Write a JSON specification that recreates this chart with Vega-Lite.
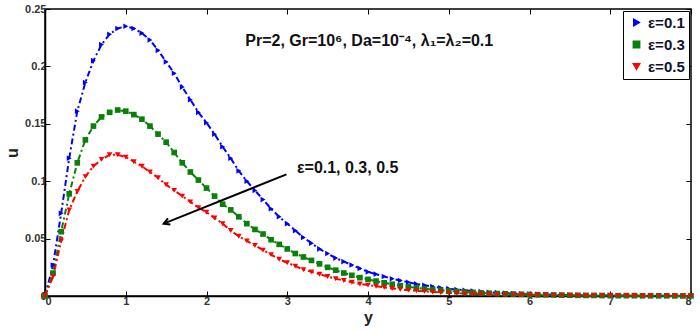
{
"$schema": "https://vega.github.io/schema/vega-lite/v6.json",
"width": 646,
"height": 287,
"autosize": {"type": "none"},
"padding": {"left": 45, "top": 9, "right": 9, "bottom": 37},
"background": "white",
"config": {
  "view": {"stroke": "black", "strokeWidth": 1.5},
  "font": "Liberation Sans",
  "axis": {
    "labelFont": "Liberation Sans", "labelFontWeight": "bold", "labelFontSize": 11, "labelColor": "#333333",
    "domainColor": "black", "domainWidth": 1.5, "tickColor": "black", "tickWidth": 1, "tickSize": -5,
    "grid": false, "titleFont": "Liberation Sans", "titleFontWeight": "bold", "titleFontSize": 16, "titleColor": "#222222"
  },
  "legend": {
    "orient": "top-right", "offset": 2, "strokeColor": "black", "fillColor": "white", "padding": 4,
    "labelFont": "Liberation Sans", "labelFontSize": 15, "labelFontWeight": "bold", "labelColor": "#111133",
    "rowPadding": 6, "symbolSize": 40, "symbolOffset": 2, "title": null
  }
},
"datasets": {
  "curves": [
{"y":0,"u":0,"eps":"ε=0.1"},{"y":0.1,"u":0.027,"eps":"ε=0.1"},{"y":0.2,"u":0.072,"eps":"ε=0.1"},{"y":0.3,"u":0.12,"eps":"ε=0.1"},{"y":0.4,"u":0.161,"eps":"ε=0.1"},{"y":0.5,"u":0.186,"eps":"ε=0.1"},{"y":0.6,"u":0.205,"eps":"ε=0.1"},{"y":0.7,"u":0.219,"eps":"ε=0.1"},{"y":0.8,"u":0.228,"eps":"ε=0.1"},{"y":0.9,"u":0.233,"eps":"ε=0.1"},
{"y":1,"u":0.235,"eps":"ε=0.1"},{"y":1.1,"u":0.233,"eps":"ε=0.1"},{"y":1.2,"u":0.229,"eps":"ε=0.1"},{"y":1.3,"u":0.223,"eps":"ε=0.1"},{"y":1.4,"u":0.214,"eps":"ε=0.1"},{"y":1.5,"u":0.204,"eps":"ε=0.1"},{"y":1.6,"u":0.194,"eps":"ε=0.1"},{"y":1.7,"u":0.182,"eps":"ε=0.1"},{"y":1.8,"u":0.171,"eps":"ε=0.1"},{"y":1.9,"u":0.16,"eps":"ε=0.1"},
{"y":2,"u":0.151,"eps":"ε=0.1"},{"y":2.1,"u":0.141,"eps":"ε=0.1"},{"y":2.2,"u":0.13,"eps":"ε=0.1"},{"y":2.3,"u":0.12,"eps":"ε=0.1"},{"y":2.4,"u":0.109,"eps":"ε=0.1"},{"y":2.5,"u":0.1,"eps":"ε=0.1"},{"y":2.6,"u":0.092,"eps":"ε=0.1"},{"y":2.7,"u":0.084,"eps":"ε=0.1"},{"y":2.8,"u":0.076,"eps":"ε=0.1"},{"y":2.9,"u":0.069,"eps":"ε=0.1"},
{"y":3,"u":0.063,"eps":"ε=0.1"},{"y":3.1,"u":0.057,"eps":"ε=0.1"},{"y":3.2,"u":0.051,"eps":"ε=0.1"},{"y":3.3,"u":0.046,"eps":"ε=0.1"},{"y":3.4,"u":0.041,"eps":"ε=0.1"},{"y":3.5,"u":0.037,"eps":"ε=0.1"},{"y":3.6,"u":0.033,"eps":"ε=0.1"},{"y":3.7,"u":0.03,"eps":"ε=0.1"},{"y":3.8,"u":0.027,"eps":"ε=0.1"},{"y":3.9,"u":0.024,"eps":"ε=0.1"},
{"y":4,"u":0.021,"eps":"ε=0.1"},{"y":4.1,"u":0.019,"eps":"ε=0.1"},{"y":4.2,"u":0.017,"eps":"ε=0.1"},{"y":4.3,"u":0.015,"eps":"ε=0.1"},{"y":4.4,"u":0.0135,"eps":"ε=0.1"},{"y":4.5,"u":0.012,"eps":"ε=0.1"},{"y":4.6,"u":0.0105,"eps":"ε=0.1"},{"y":4.7,"u":0.0093,"eps":"ε=0.1"},{"y":4.8,"u":0.0082,"eps":"ε=0.1"},{"y":4.9,"u":0.0072,"eps":"ε=0.1"},
{"y":5,"u":0.0064,"eps":"ε=0.1"},{"y":5.1,"u":0.0056,"eps":"ε=0.1"},{"y":5.2,"u":0.0049,"eps":"ε=0.1"},{"y":5.3,"u":0.0043,"eps":"ε=0.1"},{"y":5.4,"u":0.0038,"eps":"ε=0.1"},{"y":5.5,"u":0.0033,"eps":"ε=0.1"},{"y":5.6,"u":0.0029,"eps":"ε=0.1"},{"y":5.7,"u":0.0025,"eps":"ε=0.1"},{"y":5.8,"u":0.0022,"eps":"ε=0.1"},{"y":5.9,"u":0.0019,"eps":"ε=0.1"},
{"y":6,"u":0.0017,"eps":"ε=0.1"},{"y":6.1,"u":0.0015,"eps":"ε=0.1"},{"y":6.2,"u":0.0013,"eps":"ε=0.1"},{"y":6.3,"u":0.0011,"eps":"ε=0.1"},{"y":6.4,"u":0.001,"eps":"ε=0.1"},{"y":6.5,"u":0.0009,"eps":"ε=0.1"},{"y":6.6,"u":0.0008,"eps":"ε=0.1"},{"y":6.7,"u":0.0007,"eps":"ε=0.1"},{"y":6.8,"u":0.0006,"eps":"ε=0.1"},{"y":6.9,"u":0.0005,"eps":"ε=0.1"},
{"y":7,"u":0.0005,"eps":"ε=0.1"},{"y":7.1,"u":0.0004,"eps":"ε=0.1"},{"y":7.2,"u":0.0004,"eps":"ε=0.1"},{"y":7.3,"u":0.0003,"eps":"ε=0.1"},{"y":7.4,"u":0.0003,"eps":"ε=0.1"},{"y":7.5,"u":0.0003,"eps":"ε=0.1"},{"y":7.6,"u":0.0002,"eps":"ε=0.1"},{"y":7.7,"u":0.0002,"eps":"ε=0.1"},{"y":7.8,"u":0.0002,"eps":"ε=0.1"},{"y":7.9,"u":0.0001,"eps":"ε=0.1"},{"y":8,"u":0.0001,"eps":"ε=0.1"},

{"y":0,"u":0,"eps":"ε=0.3"},{"y":0.1,"u":0.02,"eps":"ε=0.3"},{"y":0.2,"u":0.056,"eps":"ε=0.3"},{"y":0.3,"u":0.089,"eps":"ε=0.3"},{"y":0.4,"u":0.116,"eps":"ε=0.3"},{"y":0.5,"u":0.136,"eps":"ε=0.3"},{"y":0.6,"u":0.148,"eps":"ε=0.3"},{"y":0.7,"u":0.156,"eps":"ε=0.3"},{"y":0.8,"u":0.16,"eps":"ε=0.3"},{"y":0.9,"u":0.162,"eps":"ε=0.3"},
{"y":1,"u":0.161,"eps":"ε=0.3"},{"y":1.1,"u":0.158,"eps":"ε=0.3"},{"y":1.2,"u":0.154,"eps":"ε=0.3"},{"y":1.3,"u":0.148,"eps":"ε=0.3"},{"y":1.4,"u":0.141,"eps":"ε=0.3"},{"y":1.5,"u":0.134,"eps":"ε=0.3"},{"y":1.6,"u":0.125,"eps":"ε=0.3"},{"y":1.7,"u":0.116,"eps":"ε=0.3"},{"y":1.8,"u":0.108,"eps":"ε=0.3"},{"y":1.9,"u":0.101,"eps":"ε=0.3"},
{"y":2,"u":0.094,"eps":"ε=0.3"},{"y":2.1,"u":0.087,"eps":"ε=0.3"},{"y":2.2,"u":0.08,"eps":"ε=0.3"},{"y":2.3,"u":0.075,"eps":"ε=0.3"},{"y":2.4,"u":0.069,"eps":"ε=0.3"},{"y":2.5,"u":0.063,"eps":"ε=0.3"},{"y":2.6,"u":0.058,"eps":"ε=0.3"},{"y":2.7,"u":0.054,"eps":"ε=0.3"},{"y":2.8,"u":0.049,"eps":"ε=0.3"},{"y":2.9,"u":0.045,"eps":"ε=0.3"},
{"y":3,"u":0.041,"eps":"ε=0.3"},{"y":3.1,"u":0.037,"eps":"ε=0.3"},{"y":3.2,"u":0.034,"eps":"ε=0.3"},{"y":3.3,"u":0.031,"eps":"ε=0.3"},{"y":3.4,"u":0.028,"eps":"ε=0.3"},{"y":3.5,"u":0.025,"eps":"ε=0.3"},{"y":3.6,"u":0.0225,"eps":"ε=0.3"},{"y":3.7,"u":0.02,"eps":"ε=0.3"},{"y":3.8,"u":0.018,"eps":"ε=0.3"},{"y":3.9,"u":0.016,"eps":"ε=0.3"},
{"y":4,"u":0.0145,"eps":"ε=0.3"},{"y":4.1,"u":0.013,"eps":"ε=0.3"},{"y":4.2,"u":0.0115,"eps":"ε=0.3"},{"y":4.3,"u":0.0102,"eps":"ε=0.3"},{"y":4.4,"u":0.009,"eps":"ε=0.3"},{"y":4.5,"u":0.008,"eps":"ε=0.3"},{"y":4.6,"u":0.0071,"eps":"ε=0.3"},{"y":4.7,"u":0.0063,"eps":"ε=0.3"},{"y":4.8,"u":0.0056,"eps":"ε=0.3"},{"y":4.9,"u":0.005,"eps":"ε=0.3"},
{"y":5,"u":0.0044,"eps":"ε=0.3"},{"y":5.1,"u":0.0039,"eps":"ε=0.3"},{"y":5.2,"u":0.0035,"eps":"ε=0.3"},{"y":5.3,"u":0.0031,"eps":"ε=0.3"},{"y":5.4,"u":0.0027,"eps":"ε=0.3"},{"y":5.5,"u":0.0024,"eps":"ε=0.3"},{"y":5.6,"u":0.0021,"eps":"ε=0.3"},{"y":5.7,"u":0.0019,"eps":"ε=0.3"},{"y":5.8,"u":0.0017,"eps":"ε=0.3"},{"y":5.9,"u":0.0015,"eps":"ε=0.3"},
{"y":6,"u":0.0013,"eps":"ε=0.3"},{"y":6.1,"u":0.0011,"eps":"ε=0.3"},{"y":6.2,"u":0.001,"eps":"ε=0.3"},{"y":6.3,"u":0.0009,"eps":"ε=0.3"},{"y":6.4,"u":0.0008,"eps":"ε=0.3"},{"y":6.5,"u":0.0007,"eps":"ε=0.3"},{"y":6.6,"u":0.0006,"eps":"ε=0.3"},{"y":6.7,"u":0.0005,"eps":"ε=0.3"},{"y":6.8,"u":0.0005,"eps":"ε=0.3"},{"y":6.9,"u":0.0004,"eps":"ε=0.3"},
{"y":7,"u":0.0004,"eps":"ε=0.3"},{"y":7.1,"u":0.0003,"eps":"ε=0.3"},{"y":7.2,"u":0.0003,"eps":"ε=0.3"},{"y":7.3,"u":0.0003,"eps":"ε=0.3"},{"y":7.4,"u":0.0002,"eps":"ε=0.3"},{"y":7.5,"u":0.0002,"eps":"ε=0.3"},{"y":7.6,"u":0.0002,"eps":"ε=0.3"},{"y":7.7,"u":0.0002,"eps":"ε=0.3"},{"y":7.8,"u":0.0001,"eps":"ε=0.3"},{"y":7.9,"u":0.0001,"eps":"ε=0.3"},{"y":8,"u":0.0001,"eps":"ε=0.3"},

{"y":0,"u":0,"eps":"ε=0.5"},{"y":0.1,"u":0.017,"eps":"ε=0.5"},{"y":0.2,"u":0.048,"eps":"ε=0.5"},{"y":0.3,"u":0.075,"eps":"ε=0.5"},{"y":0.4,"u":0.091,"eps":"ε=0.5"},{"y":0.5,"u":0.104,"eps":"ε=0.5"},{"y":0.6,"u":0.113,"eps":"ε=0.5"},{"y":0.7,"u":0.119,"eps":"ε=0.5"},{"y":0.8,"u":0.123,"eps":"ε=0.5"},{"y":0.9,"u":0.123,"eps":"ε=0.5"},
{"y":1,"u":0.121,"eps":"ε=0.5"},{"y":1.1,"u":0.117,"eps":"ε=0.5"},{"y":1.2,"u":0.113,"eps":"ε=0.5"},{"y":1.3,"u":0.108,"eps":"ε=0.5"},{"y":1.4,"u":0.103,"eps":"ε=0.5"},{"y":1.5,"u":0.097,"eps":"ε=0.5"},{"y":1.6,"u":0.092,"eps":"ε=0.5"},{"y":1.7,"u":0.087,"eps":"ε=0.5"},{"y":1.8,"u":0.082,"eps":"ε=0.5"},{"y":1.9,"u":0.077,"eps":"ε=0.5"},
{"y":2,"u":0.073,"eps":"ε=0.5"},{"y":2.1,"u":0.068,"eps":"ε=0.5"},{"y":2.2,"u":0.063,"eps":"ε=0.5"},{"y":2.3,"u":0.057,"eps":"ε=0.5"},{"y":2.4,"u":0.052,"eps":"ε=0.5"},{"y":2.5,"u":0.048,"eps":"ε=0.5"},{"y":2.6,"u":0.044,"eps":"ε=0.5"},{"y":2.7,"u":0.04,"eps":"ε=0.5"},{"y":2.8,"u":0.036,"eps":"ε=0.5"},{"y":2.9,"u":0.032,"eps":"ε=0.5"},
{"y":3,"u":0.029,"eps":"ε=0.5"},{"y":3.1,"u":0.026,"eps":"ε=0.5"},{"y":3.2,"u":0.023,"eps":"ε=0.5"},{"y":3.3,"u":0.021,"eps":"ε=0.5"},{"y":3.4,"u":0.019,"eps":"ε=0.5"},{"y":3.5,"u":0.017,"eps":"ε=0.5"},{"y":3.6,"u":0.015,"eps":"ε=0.5"},{"y":3.7,"u":0.0135,"eps":"ε=0.5"},{"y":3.8,"u":0.012,"eps":"ε=0.5"},{"y":3.9,"u":0.0105,"eps":"ε=0.5"},
{"y":4,"u":0.0095,"eps":"ε=0.5"},{"y":4.1,"u":0.0085,"eps":"ε=0.5"},{"y":4.2,"u":0.0075,"eps":"ε=0.5"},{"y":4.3,"u":0.0066,"eps":"ε=0.5"},{"y":4.4,"u":0.0058,"eps":"ε=0.5"},{"y":4.5,"u":0.0051,"eps":"ε=0.5"},{"y":4.6,"u":0.0045,"eps":"ε=0.5"},{"y":4.7,"u":0.004,"eps":"ε=0.5"},{"y":4.8,"u":0.0035,"eps":"ε=0.5"},{"y":4.9,"u":0.0031,"eps":"ε=0.5"},
{"y":5,"u":0.0027,"eps":"ε=0.5"},{"y":5.1,"u":0.0024,"eps":"ε=0.5"},{"y":5.2,"u":0.0021,"eps":"ε=0.5"},{"y":5.3,"u":0.0018,"eps":"ε=0.5"},{"y":5.4,"u":0.0016,"eps":"ε=0.5"},{"y":5.5,"u":0.0014,"eps":"ε=0.5"},{"y":5.6,"u":0.0012,"eps":"ε=0.5"},{"y":5.7,"u":0.0011,"eps":"ε=0.5"},{"y":5.8,"u":0.001,"eps":"ε=0.5"},{"y":5.9,"u":0.0009,"eps":"ε=0.5"},
{"y":6,"u":0.0008,"eps":"ε=0.5"},{"y":6.1,"u":0.0007,"eps":"ε=0.5"},{"y":6.2,"u":0.0006,"eps":"ε=0.5"},{"y":6.3,"u":0.0005,"eps":"ε=0.5"},{"y":6.4,"u":0.0005,"eps":"ε=0.5"},{"y":6.5,"u":0.0004,"eps":"ε=0.5"},{"y":6.6,"u":0.0004,"eps":"ε=0.5"},{"y":6.7,"u":0.0003,"eps":"ε=0.5"},{"y":6.8,"u":0.0003,"eps":"ε=0.5"},{"y":6.9,"u":0.0003,"eps":"ε=0.5"},
{"y":7,"u":0.0002,"eps":"ε=0.5"},{"y":7.1,"u":0.0002,"eps":"ε=0.5"},{"y":7.2,"u":0.0002,"eps":"ε=0.5"},{"y":7.3,"u":0.0002,"eps":"ε=0.5"},{"y":7.4,"u":0.0001,"eps":"ε=0.5"},{"y":7.5,"u":0.0001,"eps":"ε=0.5"},{"y":7.6,"u":0.0001,"eps":"ε=0.5"},{"y":7.7,"u":0.0001,"eps":"ε=0.5"},{"y":7.8,"u":0.0001,"eps":"ε=0.5"},{"y":7.9,"u":0.0001,"eps":"ε=0.5"},{"y":8,"u":0.0001,"eps":"ε=0.5"}
  ],
  "arrow": [{"y": 2.99, "u": 0.106, "y2": 1.47, "u2": 0.063}],
  "notes": [
    {"y": 2.48, "u": 0.218, "label": "Pr=2, Gr=10⁶, Da=10⁻⁴, λ₁=λ₂=0.1"},
    {"y": 3.12, "u": 0.107, "label": "ε=0.1, 0.3, 0.5"}
  ]
},
"layer": [
  {
    "layer": [
      {
        "data": {"name": "curves"},
        "mark": {"type": "line", "strokeWidth": 2, "strokeDash": [6, 3, 2, 3]},
        "encoding": {
          "x": {"field": "y", "type": "quantitative", "scale": {"domain": [0, 8], "nice": false},
                "axis": {"values": [0,1,2,3,4,5,6,7,8], "format": "d", "title": "y", "labelPadding": 4, "titlePadding": 3}},
          "y": {"field": "u", "type": "quantitative", "scale": {"domain": [0, 0.25], "nice": false},
                "axis": {"values": [0,0.05,0.1,0.15,0.2,0.25], "format": "~g", "title": "u", "labelPadding": 4, "titlePadding": 4}},
          "color": {"field": "eps", "type": "nominal", "scale": {"domain": ["ε=0.1","ε=0.3","ε=0.5"], "range": ["#0000ff","#0a800a","#ff0000"]}},
          "detail": {"field": "eps"}
        }
      },
      {
        "data": {"name": "curves"},
        "mark": {"type": "point", "filled": true, "size": 32, "opacity": 1},
        "encoding": {
          "x": {"field": "y", "type": "quantitative"},
          "y": {"field": "u", "type": "quantitative"},
          "color": {"field": "eps", "type": "nominal"},
          "shape": {"field": "eps", "type": "nominal", "scale": {"domain": ["ε=0.1","ε=0.3","ε=0.5"], "range": ["triangle-right","square","triangle-down"]}}
        }
      },
      {
        "data": {"name": "arrow"},
        "mark": {"type": "rule", "color": "black", "strokeWidth": 2},
        "encoding": {
          "x": {"field": "y", "type": "quantitative"},
          "y": {"field": "u", "type": "quantitative"},
          "x2": {"field": "y2"},
          "y2": {"field": "u2"}
        }
      },
      {
        "data": {"name": "arrow"},
        "mark": {"type": "point", "shape": "M -0.55 1 L 0 0 L 0.55 1", "filled": false, "stroke": "black", "strokeWidth": 2, "size": 140, "angle": 248, "opacity": 1},
        "encoding": {
          "x": {"field": "y2", "type": "quantitative"},
          "y": {"field": "u2", "type": "quantitative"}
        }
      },
      {
        "data": {"name": "notes"},
        "mark": {"type": "text", "align": "left", "baseline": "alphabetic", "font": "Liberation Sans", "fontWeight": "bold", "fontSize": 16, "color": "#111111"},
        "encoding": {
          "x": {"field": "y", "type": "quantitative"},
          "y": {"field": "u", "type": "quantitative"},
          "text": {"field": "label"}
        }
      }
    ]
  },
  {
    "data": {"values": [{"y": 0, "u": 0}]},
    "mark": {"type": "point", "opacity": 0},
    "encoding": {
      "x": {"field": "y", "type": "quantitative", "scale": {"domain": [0, 8], "nice": false},
            "axis": {"orient": "top", "values": [0,1,2,3,4,5,6,7,8], "labels": false, "title": null, "domain": false}},
      "y": {"field": "u", "type": "quantitative", "scale": {"domain": [0, 0.25], "nice": false},
            "axis": {"orient": "right", "values": [0,0.05,0.1,0.15,0.2,0.25], "labels": false, "title": null, "domain": false}}
    }
  }
],
"resolve": {"axis": {"x": "independent", "y": "independent"}}
}
